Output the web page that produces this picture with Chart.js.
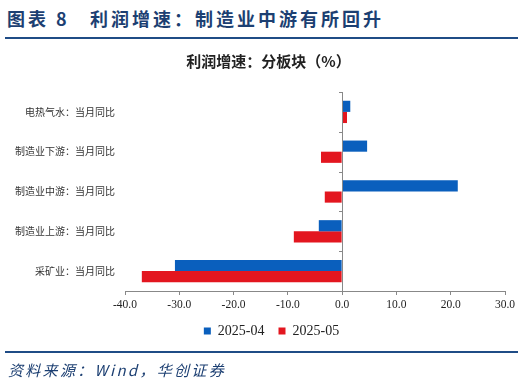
<!DOCTYPE html>
<html>
<head>
<meta charset="utf-8">
<script src="https://cdn.jsdelivr.net/npm/chart.js@4.4.1/dist/chart.umd.min.js"></script>
<style>
  html, body { margin: 0; padding: 0; background: #fff; }
  #wrap { position: relative; width: 524px; height: 383px; overflow: hidden; }
  #chart { position: absolute; left: 0; top: 0; }
  .head { position: absolute; left: 7px; top: 5px; font-family: "Noto Sans CJK SC"; font-weight: bold;
          font-size: 18px; color: #1c3f72; white-space: nowrap; letter-spacing: 3px; }
  .head .t { position: absolute; left: 83px; top: 0; }
  .rule { position: absolute; left: 5px; width: 513px; height: 2px; background: #1f4c86; }
  .src { position: absolute; left: 8px; top: 359px; font-family: "Noto Sans CJK SC"; font-style: italic;
         font-size: 15px; color: #1c3f72; white-space: nowrap; letter-spacing: 2.3px; }
</style>
</head>
<body>
<div id="wrap">
  <div class="head">图表 8<span class="t">利润增速：制造业中游有所回升</span></div>
  <div class="rule" style="top:37px"></div>
  <canvas id="chart" width="524" height="383"></canvas>
  <div class="rule" style="top:351px"></div>
  <div class="src">资料来源：Wind，华创证券</div>
</div>
<script>
// categories (top to bottom) and series
const categories = ["电热气水：当月同比", "制造业下游：当月同比", "制造业中游：当月同比", "制造业上游：当月同比", "采矿业：当月同比"];
const apr2025 = [1.5, 4.6, 21.3, -4.3, -30.8];
const may2025 = [0.9, -3.9, -3.2, -8.9, -36.9];
const seriesNames = ["2025-04", "2025-05"];

const serif = "'Liberation Serif', 'Times New Roman', serif";
const cjk = "'Noto Sans CJK SC', sans-serif";

// zero line with small ticks between categories
const zeroAxis = {
    id: 'zeroAxis',
    afterDatasetsDraw(chart) {
        const ctx = chart.ctx;
        const x = chart.scales.x.getPixelForValue(0);
        const area = chart.chartArea;
        ctx.save();
        ctx.strokeStyle = '#888';
        ctx.lineWidth = 1;
        ctx.beginPath();
        ctx.moveTo(Math.round(x) + 0.5, area.top);
        ctx.lineTo(Math.round(x) + 0.5, area.bottom);
        const n = categories.length;
        for (let i = 0; i <= n; i++) {
            const py = area.top + (area.bottom - area.top) * i / n;
            ctx.moveTo(Math.round(x) - 3, Math.round(py) + 0.5);
            ctx.lineTo(Math.round(x) + 0.5, Math.round(py) + 0.5);
        }
        ctx.stroke();
        ctx.restore();
    }
};

// title and legend sit a bit right of the canvas centre
const shiftBoxes = {
    id: 'shiftBoxes',
    afterLayout(chart) {
        [[chart.titleBlock, 16], [chart.legend, 19]].forEach(([box, dx]) => {
            if (!box) return;
            box.left += dx;
            box.right += dx;
        });
    }
};

new Chart(document.getElementById('chart').getContext('2d'), {
    type: 'bar',
    data: {
        labels: categories,
        datasets: [{
            label: seriesNames[0],
            data: apr2025,
            backgroundColor: '#0a5fbd'
        }, {
            label: seriesNames[1],
            data: may2025,
            backgroundColor: '#e3161f'
        }]
    },
    options: {
        indexAxis: 'y',
        responsive: false,
        animation: false,
        categoryPercentage: 0.56,
        barPercentage: 1.0,
        layout: { padding: { top: 45, left: 0, right: 19, bottom: 35 } },
        scales: {
            x: {
                min: -40,
                max: 30,
                ticks: {
                    stepSize: 10,
                    color: '#222',
                    font: { family: serif, size: 11.5 },
                    padding: 3,
                    maxRotation: 0,
                    callback: v => v.toFixed(1)
                },
                grid: { drawOnChartArea: false, drawTicks: true, tickLength: 4, color: '#888' },
                border: { display: true, color: '#888' },
                afterFit: s => { s.height = 19; }
            },
            y: {
                ticks: { color: '#333', font: { family: cjk, size: 10 }, padding: 10 },
                grid: { display: false, drawTicks: false },
                border: { display: false },
                afterFit: s => { s.width = 125; }
            }
        },
        plugins: {
            title: {
                display: true,
                text: '利润增速：分板块（%）',
                color: '#222',
                font: { family: cjk, size: 15, weight: 'bold' },
                padding: { top: 7, bottom: 22 }
            },
            legend: {
                position: 'bottom',
                labels: {
                    boxWidth: 7,
                    boxHeight: 7,
                    color: '#222',
                    font: { family: serif, size: 14 },
                    padding: 14
                }
            },
            tooltip: { enabled: false }
        }
    },
    plugins: [zeroAxis, shiftBoxes]
});
</script>
</body>
</html>
